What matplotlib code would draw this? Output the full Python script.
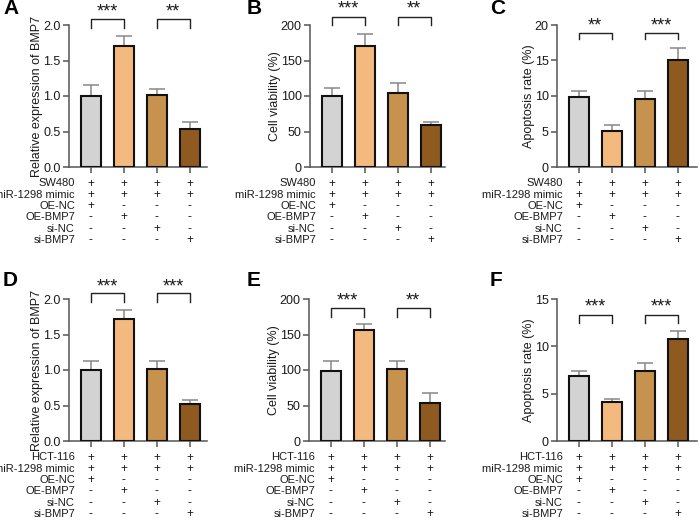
import matplotlib
matplotlib.use('Agg')
import matplotlib.pyplot as plt

plt.rcParams['font.family'] = ['Liberation Sans', 'DejaVu Sans']

# ---------------- data ----------------
bar_colors = ['#D3D3D3', '#F4B97F', '#C7924E', '#8F5A1F']
rows_top = ['SW480', 'miR-1298 mimic', 'OE-NC', 'OE-BMP7', 'si-NC', 'si-BMP7']
rows_bottom = ['HCT-116', 'miR-1298 mimic', 'OE-NC', 'OE-BMP7', 'si-NC', 'si-BMP7']
signs = [['+', '+', '+', '+'],
         ['+', '+', '+', '+'],
         ['+', '-', '-', '-'],
         ['-', '+', '-', '-'],
         ['-', '-', '+', '-'],
         ['-', '-', '-', '+']]

mean_A = [1.00, 1.71, 1.02, 0.54]
err_A = [0.15, 0.14, 0.08, 0.10]
mean_B = [100, 170, 104, 59]
err_B = [11, 18, 15, 4.5]
mean_C = [9.8, 5.1, 9.6, 15.1]
err_C = [0.85, 0.85, 1.05, 1.65]
mean_D = [1.00, 1.72, 1.02, 0.52]
err_D = [0.13, 0.12, 0.10, 0.06]
mean_E = [99, 156, 101, 53]
err_E = [13, 9, 12, 14]
mean_F = [6.9, 4.1, 7.35, 10.8]
err_F = [0.5, 0.3, 0.85, 0.8]

sig_A = ['***', '**']
sig_B = ['***', '**']
sig_C = ['**', '***']
sig_D = ['***', '***']
sig_E = ['***', '**']
sig_F = ['***', '***']

ylabels = ['Relative expression of BMP7', 'Cell viability (%)', 'Apoptosis rate (%)']
yticks_A = [0, 0.5, 1.0, 1.5, 2.0]
yticks_B = [0, 50, 100, 150, 200]
yticks_C = [0, 5, 10, 15, 20]
yticks_F = [0, 5, 10, 15]

# ---------------- layout ----------------
W, H = 700, 520
fig = plt.figure(figsize=(W / 100, H / 100), dpi=100)

panels = [
    ('A', (69, 25, 138, 142), mean_A, err_A, yticks_A, '{:.1f}', ylabels[0], rows_top, sig_A, (2.085, 1.96, 2.19), (3, 9), 0),
    ('B', (310, 25, 135, 142), mean_B, err_B, yticks_B, '{:.0f}', ylabels[1], rows_top, sig_B, (211, 200, 222), (247, 9), 0),
    ('C', (557, 25, 140, 142), mean_C, err_C, yticks_C, '{:.0f}', ylabels[2], rows_top, sig_C, (18.87, 18.03, 19.9), (490, 9), 0),
    ('D', (69, 299, 138, 142), mean_D, err_D, yticks_A, '{:.1f}', ylabels[0], rows_bottom, sig_D, (2.08, 1.96, 2.17), (3, 281), 0),
    ('E', (309, 299, 136, 142), mean_E, err_E, yticks_B, '{:.0f}', ylabels[1], rows_bottom, sig_E, (187, 175, 197), (247, 281), 0),
    ('F', (557, 299, 140, 142), mean_F, err_F, yticks_F, '{:.0f}', ylabels[2], rows_bottom, sig_F, (13.3, 12.5, 14.15), (490, 281), 0),
]

axis_col = '#555555'
text_col = '#1a1a1a'
x = [0, 1, 2, 3]

for (letter, rect, means, errs, yt, fmt, ylab, rows, sig, br, lpos, lpad) in panels:
    l, t, w, h = rect
    ax = fig.add_axes([l / W, 1 - (t + h) / H, w / W, h / H])
    ax.bar(x, means, width=0.62, color=bar_colors, edgecolor='#111111', linewidth=1.5, zorder=3)
    ax.errorbar(x, means, yerr=[[0] * 4, errs], fmt='none', ecolor='#888888',
                elinewidth=1.1, capsize=5.5, capthick=1.1, zorder=2)
    ax.set_xlim(-0.66, (w / 33.0) - 0.66)
    ax.set_ylim(0, yt[-1])
    ax.set_yticks(yt)
    ax.set_yticklabels([fmt.format(v) for v in yt])
    ax.set_xticks(x)
    ax.set_xticklabels([])
    for s in ['top', 'right']:
        ax.spines[s].set_visible(False)
    for s in ['left', 'bottom']:
        ax.spines[s].set_color(axis_col)
        ax.spines[s].set_linewidth(1.1)
    ax.tick_params(axis='both', direction='out', length=4, width=1.1, color=axis_col,
                   labelsize=9, labelcolor=text_col, pad=2)
    ax.set_ylabel(ylab, fontsize=9, color=text_col, labelpad=lpad)

    # significance brackets
    hi, lo, sy = br
    for k, (a, b) in enumerate([(0, 1), (2, 3)]):
        ax.plot([a, a, b, b], [lo, hi, hi, lo], color='#222222', lw=1.0, clip_on=False)
        ax.text((a + b) / 2, sy, sig[k], ha='center', va='center', fontsize=13,
                color=text_col, clip_on=False)

    # condition table
    for r, lab in enumerate(rows):
        off_pt = -(16.5 + 11.3 * r) * 0.72
        ax.annotate(lab, xy=(0, 0), xycoords='axes fraction', xytext=(6 * 0.72, off_pt),
                    textcoords='offset points', ha='right', va='center', fontsize=8, color=text_col,
                    annotation_clip=False)
        for i in x:
            ax.annotate(signs[r][i], xy=(i, 0), xycoords=('data', 'axes fraction'),
                        xytext=(0, off_pt), textcoords='offset points', ha='center',
                        va='center', fontsize=8.5, color=text_col, annotation_clip=False)

    fig.text(lpos[0] / W, 1 - lpos[1] / H, letter, fontsize=15, fontweight='bold',
             ha='left', va='center', color='#000000')

fig.savefig('out.png', dpi=100)
